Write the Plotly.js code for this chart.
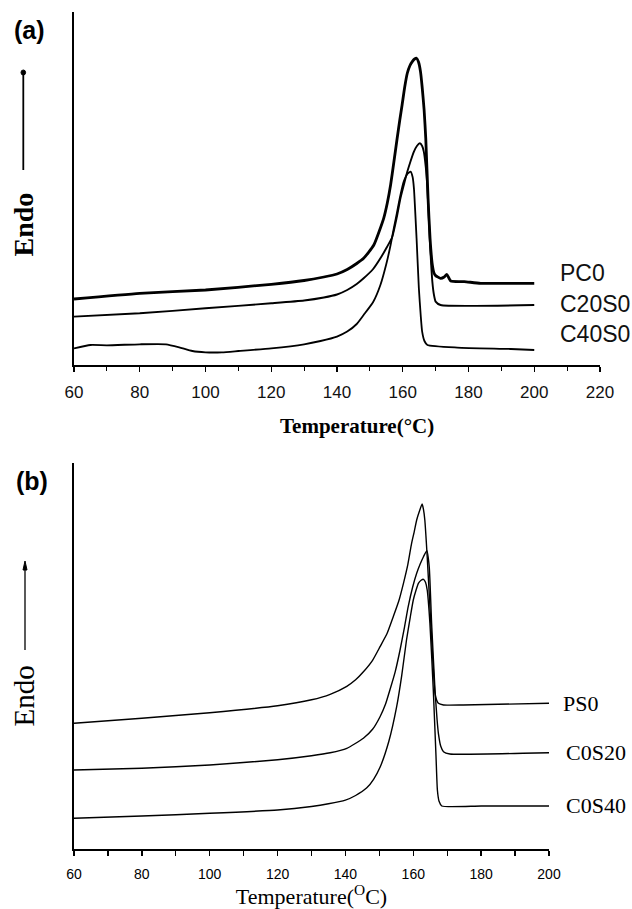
<!DOCTYPE html>
<html>
<head>
<meta charset="utf-8">
<script src="https://cdn.plot.ly/plotly-3.0.1.min.js"></script>
<style>html,body{margin:0;padding:0;background:#fff}#chart{width:632px;height:909px}</style>
</head>
<body>
<div id="chart"></div>
<script>
// ---------- Panel (a): temperature (°C) and heat flow (a.u., endo up) ----------
const tempPC0 = [60, 80, 100, 120, 130, 136, 140, 143.1, 146, 148.1, 151.2, 154.2, 155.3, 156.3, 157.3, 158.3, 159.1, 159.8, 160.6, 161.4, 162.2, 162.9, 163.6, 164.2, 164.8, 165.4, 165.9, 166.5, 167, 167.7, 168.3, 169, 169.5, 170, 171.5, 172.6, 173.4, 174.6, 178.7, 183.7, 200];
const heatPC0 = [66, 71.7, 75, 80.7, 84.5, 88, 91, 95.5, 101.5, 106.7, 120, 146.7, 162, 180, 203, 226.7, 245, 260, 278, 292, 299.5, 303.4, 306, 306.7, 303, 293.4, 278, 255, 226.7, 166.7, 126.7, 100, 92, 89.4, 86.7, 88, 90.7, 84, 83.4, 81.7, 81.7];

const tempC20S0 = [60, 80, 100, 120, 130, 136, 140, 143.1, 146, 148.1, 151, 153.2, 155.2, 156.8, 158.2, 159.3, 160.4, 161.4, 162.4, 163.4, 164.3, 165.2, 165.9, 166.4, 167, 167.5, 168.2, 169, 169.5, 170, 171.5, 200];
const heatC20S0 = [48.4, 51.7, 56.7, 61.7, 64.5, 67.5, 70.5, 75, 81, 86.7, 96, 106.7, 118, 128, 148, 166.7, 181, 193.4, 204, 213.4, 219, 221.7, 219, 213.4, 198, 176.7, 126.7, 83.4, 70, 63.4, 60, 60];

const tempC40S0 = [60, 65, 70, 80, 88, 92, 96, 100, 105, 110, 120, 130, 135, 140, 143.1, 146, 148.1, 151, 153.2, 155, 156.3, 157.3, 158.3, 159.3, 160.3, 161.4, 162.4, 163, 163.4, 164.2, 164.9, 165.5, 165.9, 166.6, 167.5, 176.6, 192.9, 200];
const heatC40S0 = [16.7, 20, 19.7, 20.7, 20.7, 17.7, 14, 12.7, 12.7, 14, 16.7, 20.7, 24, 28.4, 33.4, 41, 50, 63, 80, 101, 120, 137, 153.4, 170, 183.4, 191, 193.4, 188, 176.7, 126.7, 76.7, 48, 33.4, 24, 20, 17.4, 16, 15];

const labelsA = ["PC0", "C20S0", "C40S0"];
const labelYA = [91.7, 60.7, 30.7];

// ---------- Panel (b) ----------
const tempPS0 = [60, 80, 100, 120, 130, 135.5, 140.4, 143, 145.3, 148, 150.2, 152.3, 154.1, 155.7, 157.1, 158.4, 159.5, 160.3, 161, 161.8, 162.6, 163, 163.4, 164.1, 164.9, 165.7, 166.4, 166.9, 167.4, 168.9, 174.7, 200];
const heatPS0 = [126, 131, 136.6, 143.5, 149.5, 155, 163, 169.5, 177.5, 189, 202.6, 216, 232.6, 248, 266, 285, 306, 318, 329.3, 338, 345.3, 340, 329.3, 292.6, 242.6, 192.6, 156, 149, 146, 144.3, 144.3, 146];

const tempC0S20 = [60, 80, 100, 120, 130, 135.5, 140.4, 145.3, 148, 150.2, 151.8, 153.1, 154.7, 156.1, 157.4, 158.5, 159.8, 161, 162, 163, 164, 164.7, 165.4, 166.4, 167, 167.4, 168.1, 168.9, 170.8, 192.4, 200];
const heatC0S20 = [79.3, 81, 84.3, 89.5, 93.5, 96.5, 101, 111, 120, 132.6, 145, 159.3, 178, 199.3, 222, 242.6, 262, 276, 285, 292.6, 298.6, 282.6, 226, 159.3, 130, 116, 103, 97.6, 95.3, 96, 96.6];

const tempC0S40 = [60, 80, 100, 120, 130, 135, 140, 143, 146.3, 148.3, 150.2, 152.8, 155.1, 156.6, 158, 159.1, 160, 160.8, 161.5, 162.3, 163, 163.6, 164.1, 164.9, 165.9, 166.7, 167.1, 167.6, 168.4, 180, 200];
const heatC0S40 = [31, 33.3, 36, 39.3, 42.8, 45.5, 49.2, 53.8, 61.5, 70, 82, 108, 142.6, 174, 209.3, 232, 249.3, 259, 266, 269, 270, 267, 259.3, 226, 159.3, 92.6, 59.3, 48, 43.3, 43.3, 43.3];

const labelsB = ["PS0", "C0S20", "C0S40"];
const labelYB = [146.3, 96.8, 44.3];

const W = 632, H = 909;
const px = v => v / W;
const py = v => (H - v) / H;

function line(x, y, xa, ya, w, name) {
  return {x: x, y: y, xaxis: xa, yaxis: ya, type: 'scatter', mode: 'lines', name: name,
          line: {color: '#000', width: w, shape: 'spline', smoothing: 0.5}, showlegend: false, hoverinfo: 'skip'};
}

const traces = [
  line(tempPC0, heatPC0, 'x', 'y', 2.8, 'PC0'),
  line(tempC20S0, heatC20S0, 'x', 'y', 1.9, 'C20S0'),
  line(tempC40S0, heatC40S0, 'x', 'y', 1.8, 'C40S0'),
  line(tempPS0, heatPS0, 'x2', 'y2', 1.4, 'PS0'),
  line(tempC0S20, heatC0S20, 'x2', 'y2', 1.4, 'C0S20'),
  line(tempC0S40, heatC0S40, 'x2', 'y2', 1.4, 'C0S40')
];

const annotations = [];
labelsA.forEach((t, i) => annotations.push({
  text: t, xref: 'paper', yref: 'y', x: px(558), y: labelYA[i], xanchor: 'left', yanchor: 'middle',
  showarrow: false, font: {family: 'Liberation Sans, Arial, sans-serif', size: 23, color: '#111'}
}));
labelsB.forEach((t, i) => annotations.push({
  text: t, xref: 'paper', yref: 'y2', x: px(i === 0 ? 561 : 564), y: labelYB[i], xanchor: 'left', yanchor: 'middle',
  showarrow: false, font: {family: 'Liberation Serif, Times New Roman, serif', size: 22, color: '#000'}
}));
// panel tags
annotations.push({text: '<b>(a)</b>', xref: 'paper', yref: 'paper', x: px(29), y: py(30), xanchor: 'center', yanchor: 'middle',
  showarrow: false, font: {family: 'Liberation Sans, Arial, sans-serif', size: 25, color: '#000'}});
annotations.push({text: '<b>(b)</b>', xref: 'paper', yref: 'paper', x: px(32), y: py(481), xanchor: 'center', yanchor: 'middle',
  showarrow: false, font: {family: 'Liberation Sans, Arial, sans-serif', size: 25, color: '#000'}});
// Endo labels
annotations.push({text: '<b>Endo</b>', xref: 'paper', yref: 'paper', x: px(22.5), y: py(225), textangle: -90,
  xanchor: 'center', yanchor: 'middle', showarrow: false,
  font: {family: 'Liberation Serif, Times New Roman, serif', size: 28, color: '#000'}});
annotations.push({text: 'Endo', xref: 'paper', yref: 'paper', x: px(23.5), y: py(696), textangle: -90,
  xanchor: 'center', yanchor: 'middle', showarrow: false,
  font: {family: 'Liberation Serif, Times New Roman, serif', size: 29, color: '#000'}});
// top x-axis title
annotations.push({text: '<b>Temperature(°C)</b>', xref: 'paper', yref: 'paper', x: px(357), y: py(426),
  xanchor: 'center', yanchor: 'middle', showarrow: false,
  font: {family: 'Liberation Serif, Times New Roman, serif', size: 21, color: '#000'}});

// Endo arrows (shapes)
const shapes = [
  {type: 'line', xref: 'paper', yref: 'paper', x0: px(23.3), x1: px(23.3), y0: py(170), y1: py(74),
   line: {color: '#000', width: 1.8}},
  {type: 'circle', xref: 'paper', yref: 'paper', x0: px(21), x1: px(25.6), y0: py(70), y1: py(75),
   fillcolor: '#000', line: {color: '#000', width: 1}},
  {type: 'line', xref: 'paper', yref: 'paper', x0: px(25), x1: px(25), y0: py(650), y1: py(566),
   line: {color: '#000', width: 1.3}},
  {type: 'path', xref: 'paper', yref: 'paper',
   path: 'M ' + px(23) + ' ' + py(570) + ' L ' + px(25) + ' ' + py(561) + ' L ' + px(27) + ' ' + py(570) + ' Z',
   fillcolor: '#000', line: {color: '#000', width: 1}}
];

const axisBase = {showgrid: false, zeroline: false, showline: true, linecolor: '#000', linewidth: 1.6};

const layout = {
  width: W, height: H,
  margin: {l: 0, r: 0, t: 0, b: 0},
  paper_bgcolor: '#fff', plot_bgcolor: '#fff',
  showlegend: false,
  xaxis: Object.assign({}, axisBase, {
    domain: [px(74), px(600)], anchor: 'y', range: [60, 220], dtick: 20, tick0: 60,
    ticks: 'outside', ticklen: 5, tickwidth: 1.3, tickcolor: '#000', ticklabelstandoff: 6,
    tickfont: {family: 'Liberation Sans, Arial, sans-serif', size: 17, color: '#111'},
    minor: {dtick: 10, ticks: 'outside', ticklen: 4, tickwidth: 1.2, tickcolor: '#000', showgrid: false}
  }),
  yaxis: Object.assign({}, axisBase, {
    domain: [py(365), py(12)], anchor: 'x', range: [0, 353], showticklabels: false, ticks: ''
  }),
  xaxis2: Object.assign({}, axisBase, {
    domain: [px(74), px(549)], anchor: 'y2', range: [60, 200], dtick: 20, tick0: 60,
    ticks: 'outside', ticklen: 5, tickwidth: 1.3, tickcolor: '#000', ticklabelstandoff: 6,
    tickfont: {family: 'Liberation Sans, Arial, sans-serif', size: 14, color: '#000'},
    minor: {dtick: 10, ticks: 'outside', ticklen: 5, tickwidth: 1.2, tickcolor: '#000', showgrid: false},
    title: {text: 'Temperature(<sup>O</sup>C)', standoff: 8,
            font: {family: 'Liberation Serif, Times New Roman, serif', size: 22, color: '#000'}}
  }),
  yaxis2: Object.assign({}, axisBase, {
    domain: [py(849.3), py(463)], anchor: 'x2', range: [0, 386.3], showticklabels: false, ticks: ''
  }),
  annotations: annotations,
  shapes: shapes
};

Plotly.newPlot('chart', traces, layout, {staticPlot: true, displayModeBar: false});
</script>
</body>
</html>
